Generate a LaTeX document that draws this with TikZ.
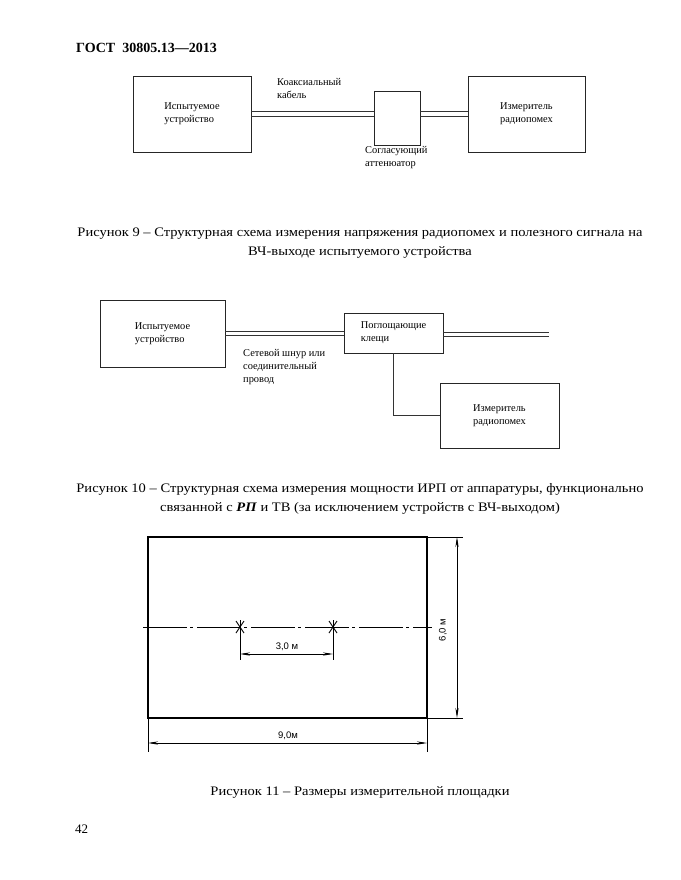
\documentclass[tikz,border=0pt]{standalone}
\usepackage{graphicx}
\usepackage{fontspec}
\setmainfont{Liberation Serif}
\newfontfamily\dimfont{Liberation Sans}
\usetikzlibrary{arrows.meta}
\tikzset{
  box/.style={draw=black!85, line width=0.6pt, align=left, inner sep=0pt, font=\fontsize{10.4}{13}\selectfont},
  lbl/.style={anchor=north west, align=left, inner sep=0pt, font=\fontsize{10.4}{13}\selectfont},
  wire/.style={draw=black!80, line width=0.6pt},
  captxt/.style={align=center, inner sep=0pt, font=\fontsize{13}{19}\selectfont},
  dimarr/.style={line width=0.6pt, {Stealth[length=10pt,width=3.2pt]}-{Stealth[length=10pt,width=3.2pt]}},
  thinl/.style={line width=0.6pt},
  dimtxt/.style={inner sep=0pt, font=\dimfont\fontsize{9.5}{10}\selectfont}
}
\newcommand{\hs}[1]{\scalebox{1.117}[1]{#1}}
\begin{document}
\begin{tikzpicture}[x=1pt,y=-1pt]
\useasboundingbox[fill=white] (0,0) rectangle (680,880);

% header
\node[anchor=west, inner sep=0pt, font=\bfseries\fontsize{14}{16}\selectfont] (hdr) at (76,48) {ГОСТ\ \ 30805.13—2013};

% Figure 9
\node[box, minimum width=118, minimum height=76] (dut9) at (192,114) {Испытуемое\\устройство};
\node[box, minimum width=46, minimum height=54] (att) at (397,118) {};
\node[box, minimum width=117, minimum height=76] (meas9) at (526.5,114) {Измеритель\\радиопомех};
\draw[wire] ([yshift=-2.2pt]dut9.east) -- ([yshift=-2.2pt]dut9.east -| att.west);
\draw[wire] ([yshift=2.2pt]dut9.east) -- ([yshift=2.2pt]dut9.east -| att.west);
\draw[wire] ([yshift=-2.2pt]att.east |- meas9.west) -- ([yshift=-2.2pt]meas9.west);
\draw[wire] ([yshift=2.2pt]att.east |- meas9.west) -- ([yshift=2.2pt]meas9.west);
\node[lbl] (coax) at (277,78) {Коаксиальный\\кабель};
\node[lbl] (attl) at (365,146) {Согласующий\\аттенюатор};

\node[captxt] (cap9) at (360,243) {\hs{Рисунок 9 – Структурная схема измерения напряжения радиопомех и полезного сигнала на}\\\hs{ВЧ-выходе испытуемого устройства}};

% Figure 10
\node[box, minimum width=125, minimum height=67] (dut10) at (162.5,333.5) {Испытуемое\\устройство};
\node[box, minimum width=99, minimum height=40] (clamp) at (393.5,333) {Поглощающие\\клещи};
\node[box, minimum width=119, minimum height=65] (meas10) at (499.5,415.5) {Измеритель\\радиопомех};
\coordinate (mains) at (549,334);
\draw[wire] ([yshift=-2pt]dut10.east) -- ([yshift=-2pt]dut10.east -| clamp.west);
\draw[wire] ([yshift=2pt]dut10.east) -- ([yshift=2pt]dut10.east -| clamp.west);
\draw[wire] ([yshift=-2pt]clamp.east |- mains) -- ([yshift=-2pt]mains);
\draw[wire] ([yshift=2pt]clamp.east |- mains) -- ([yshift=2pt]mains);
\draw[wire] (clamp.south) |- (meas10.west);
\node[lbl] (cord) at (243,349) {Сетевой шнур или\\соединительный\\провод};

\node[captxt] (cap10) at (360,499) {\hs{Рисунок 10 – Структурная схема измерения мощности ИРП от аппаратуры, функционально}\\\hs{связанной с \textbf{\textit{РП}} и ТВ (за исключением устройств с ВЧ-выходом)}};

% Figure 11
\draw[line width=1.6pt] (148,537) rectangle (427,718);
\draw[line width=0.8pt, dash pattern=on 44pt off 3pt on 3pt off 4pt] (143,627) -- (432,627);
\foreach \n/\x in {s1/240, s2/333} {
  \coordinate (\n) at (\x,627);
  \draw[line width=0.9pt] (\x,627) ++(-4,-6) -- ++(8,12);
  \draw[line width=0.9pt] (\x,627) ++(4,-6) -- ++(-8,12);
  \draw[line width=0.9pt] (\x,620) -- (\x,660);
}
\draw[dimarr] (240,654) -- (333,654);
\node[dimtxt] (d3) at (287,647) {3,0 м};

\draw[thinl] (427,537) -- (463,537);
\draw[thinl] (427,718) -- (463,718);
\draw[dimarr] (457,537) -- (457,718);
\node[dimtxt, rotate=90] (d6) at (443,630) {6,0 м};

\draw[thinl] (148,718) -- (148,752);
\draw[thinl] (427,718) -- (427,752);
\draw[dimarr] (148,743) -- (427,743);
\node[dimtxt] (d9) at (288,736) {9,0м};

\node[captxt] (cap11) at (360,792) {\hs{Рисунок 11 – Размеры измерительной площадки}};

\node[anchor=west, inner sep=0pt, font=\fontsize{13}{15}\selectfont] (pg) at (75,829) {42};
\end{tikzpicture}
\end{document}
